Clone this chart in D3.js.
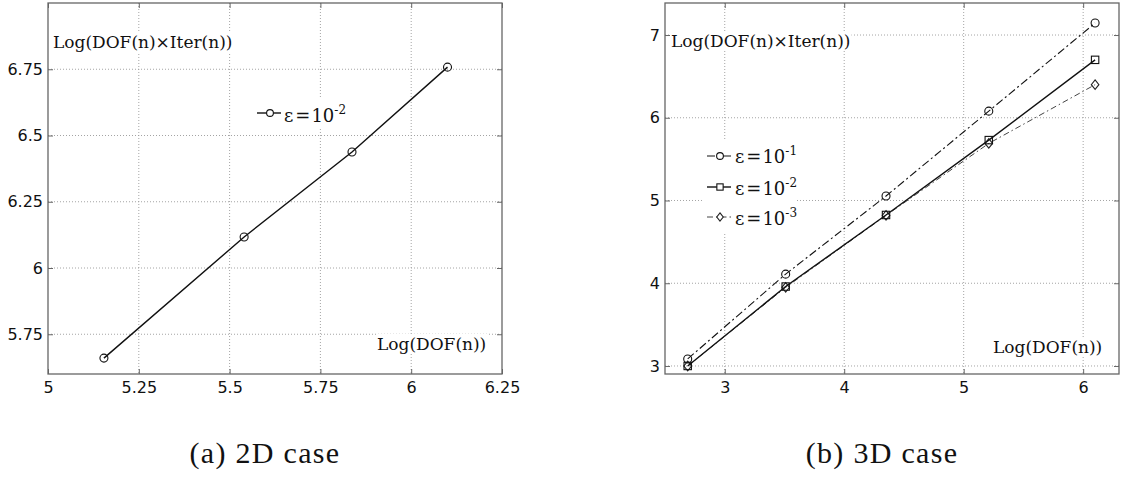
<!DOCTYPE html>
<html><head><meta charset="utf-8">
<script src="https://cdn.jsdelivr.net/npm/d3@7"></script>
<style>body{margin:0;background:#fff}svg{display:block}</style>
</head><body>
<svg id="c" width="1121" height="478"></svg>
<script>
// ---- data ----
const x2D = [5.154, 5.54, 5.837, 6.10];
const y2D = [5.66, 6.117, 6.438, 6.758];
const x2DTicks = [5, 5.25, 5.5, 5.75, 6, 6.25];
const y2DTicks = [5.75, 6, 6.25, 6.5, 6.75];

const x3D = [2.69, 3.51, 4.35, 5.21, 6.10];
const e1 = [3.085, 4.11, 5.054, 6.08, 7.145];
const e2 = [3.0, 3.96, 4.825, 5.73, 6.70];
const e3 = [3.0, 3.95, 4.82, 5.69, 6.40];
const x3DTicks = [3, 4, 5, 6];
const y3DTicks = [3, 4, 5, 6, 7];

const yLabel = "Log(DOF(n)×Iter(n))";
const xLabel = "Log(DOF(n))";
const captions = ["(a) 2D case", "(b) 3D case"];

const svg = d3.select("#c");
const serif = "DejaVu Serif";
const sans = "DejaVu Sans";

function panel(cfg) {
  const g = svg.append("g");
  const x = d3.scaleLinear().domain(cfg.xd).range([cfg.x0, cfg.x1]);
  const y = d3.scaleLinear().domain(cfg.yd).range([cfg.y1, cfg.y0]);
  // grid
  const grid = g.append("g");
  grid.selectAll("line.v").data(cfg.xt.filter(v => x(v) > cfg.x0 + 1 && x(v) < cfg.x1 - 1)).join("line")
    .attr("x1", d => x(d)).attr("x2", d => x(d)).attr("y1", cfg.y0).attr("y2", cfg.y1);
  grid.selectAll("line.h").data(cfg.yt.filter(v => y(v) > cfg.y0 + 1 && y(v) < cfg.y1 - 1), d => "h" + d).join(
    enter => enter.append("line"))
    .attr("x1", cfg.x0).attr("x2", cfg.x1).attr("y1", d => y(d)).attr("y2", d => y(d));
  grid.selectAll("line").attr("stroke", "#9a9a9a").attr("stroke-width", 0.9).attr("stroke-dasharray", "1,2");

  // axes with inward ticks
  const fmt = d => String(d);
  const ax = g.append("g").attr("transform", `translate(0,${cfg.y1})`)
    .call(d3.axisBottom(x).tickValues(cfg.xt).tickFormat(fmt).tickSize(-5).tickPadding(7.5));
  const ay = g.append("g").attr("transform", `translate(${cfg.x0},0)`)
    .call(d3.axisLeft(y).tickValues(cfg.yt).tickFormat(fmt).tickSize(-5).tickPadding(5));
  const at = g.append("g").attr("transform", `translate(0,${cfg.y0})`)
    .call(d3.axisTop(x).tickValues(cfg.xt).tickFormat("").tickSize(-5));
  const ar = g.append("g").attr("transform", `translate(${cfg.x1},0)`)
    .call(d3.axisRight(y).tickValues(cfg.yt).tickFormat("").tickSize(-5));
  [ax, ay, at, ar].forEach(a => {
    a.select(".domain").remove();
    a.selectAll(".tick line").attr("stroke", "#666").attr("stroke-width", 1);
    a.selectAll("text").attr("font-family", sans).attr("font-size", 16).attr("fill", "#111");
  });
  g.append("rect").attr("x", cfg.x0).attr("y", cfg.y0).attr("width", cfg.x1 - cfg.x0).attr("height", cfg.y1 - cfg.y0)
    .attr("fill", "none").attr("stroke", "#666").attr("stroke-width", 1.3);

  // labels with white background
  function label(txt, tx, ty) {
    const bg = g.append("rect").attr("fill", "#fff");
    const t = g.append("text").attr("x", tx).attr("y", ty).attr("font-family", serif).attr("font-size", 17)
      .attr("fill", "#111").text(txt);
    const b = t.node().getBBox();
    bg.attr("x", b.x - 1).attr("y", b.y).attr("width", b.width + 2).attr("height", b.height);
  }
  label(yLabel, cfg.ylx, cfg.yly);
  label(xLabel, cfg.xlx, cfg.xly);

  const lines = g.append("g");
  return {g, x, y, lines};
}

function marker(sel, type, cx, cy, s) {
  s = s || 1;
  if (type === "circle") {
    sel.append("circle").attr("cx", cx).attr("cy", cy).attr("r", 4 * s);
  } else if (type === "square") {
    sel.append("rect").attr("x", cx - 3.7 * s).attr("y", cy - 3.7 * s).attr("width", 7.4 * s).attr("height", 7.4 * s);
  } else {
    sel.append("path").attr("d", `M${cx},${cy - 4.8 * s}L${cx + 3.8 * s},${cy}L${cx},${cy + 4.8 * s}L${cx - 3.8 * s},${cy}Z`);
  }
}

function series(p, xs, ys, style) {
  const pts = xs.map((v, i) => [p.x(v), p.y(ys[i])]);
  p.lines.append("path").attr("d", d3.line()(pts)).attr("fill", "none")
    .attr("stroke", style.color).attr("stroke-width", style.w).attr("stroke-dasharray", style.dash);
  const mg = p.lines.append("g").attr("fill", "none").attr("stroke", style.mcolor || style.color).attr("stroke-width", 1.1);
  pts.forEach(q => marker(mg, style.marker, q[0], q[1]));
}

function legend(p, items, box, lx0, lx1, tx, rows) {
  const lg = p.g.append("g");
  lg.append("rect").attr("x", box[0]).attr("y", box[1]).attr("width", box[2]).attr("height", box[3]).attr("fill", "#fff");
  items.forEach((it, i) => {
    const r = rows[i];
    lg.append("line").attr("x1", lx0).attr("x2", lx1).attr("y1", r.ly).attr("y2", r.ly)
      .attr("stroke", it.style.color).attr("stroke-width", it.style.w).attr("stroke-dasharray", it.style.dash);
    const mg = lg.append("g").attr("fill", "#fff").attr("stroke", it.style.mcolor || it.style.color).attr("stroke-width", 1.1);
    marker(mg, it.style.marker, (lx0 + lx1) / 2 + 1, r.ly, 0.85);
    const t = lg.append("text").attr("x", tx).attr("y", r.ty).attr("font-family", serif).attr("font-size", 18).attr("fill", "#111");
    t.append("tspan").text("ε");
    t.append("tspan").attr("dx", 2).text("=");
    t.append("tspan").attr("dx", 1).text("10");
    t.append("tspan").attr("dy", -8).attr("font-size", 12).text(it.exp);
  });
}

const s1 = {color: "#111", w: 1.1, dash: "8,3,2,3", marker: "circle"};
const s2 = {color: "#111", w: 1.4, dash: null, marker: "square"};
const s3 = {color: "#444", w: 1.0, dash: "6,3,1.5,3", marker: "diamond", mcolor: "#222"};
const s2D = {color: "#111", w: 1.4, dash: null, marker: "circle"};

// ---- left panel ----
const pA = panel({xd: [5, 6.25], yd: [5.6, 7.0], x0: 48, x1: 502, y0: 3, y1: 374,
  xt: x2DTicks, yt: y2DTicks, ylx: 53, yly: 48, xlx: 377, xly: 350});
series(pA, x2D, y2D, s2D);
legend(pA, [{style: s2D, exp: "-2"}], [254, 98, 92, 30], 257, 281, 284, [{ly: 113, ty: 122}]);

// ---- right panel ----
const pB = panel({xd: [2.5, 6.3], yd: [2.903, 7.387], x0: 665, x1: 1119, y0: 3, y1: 374,
  xt: x3DTicks, yt: y3DTicks, ylx: 671, yly: 47, xlx: 993, xly: 353});
series(pB, x3D, e3, s3);
series(pB, x3D, e2, s2);
series(pB, x3D, e1, s1);
legend(pB, [{style: s1, exp: "-1"}, {style: s2, exp: "-2"}, {style: s3, exp: "-3"}],
  [703, 140, 94, 93], 707, 731, 735,
  [{ly: 156, ty: 163}, {ly: 187, ty: 195}, {ly: 217, ty: 225}]);

// captions
svg.selectAll("text.cap").data(captions).join("text").attr("class", "cap")
  .attr("x", (d, i) => i === 0 ? 265 : 882).attr("y", 463).attr("text-anchor", "middle")
  .attr("font-family", "Liberation Serif").attr("font-size", 30).attr("letter-spacing", 1.3)
  .attr("fill", "#111").text(d => d);
</script>
</body></html>
